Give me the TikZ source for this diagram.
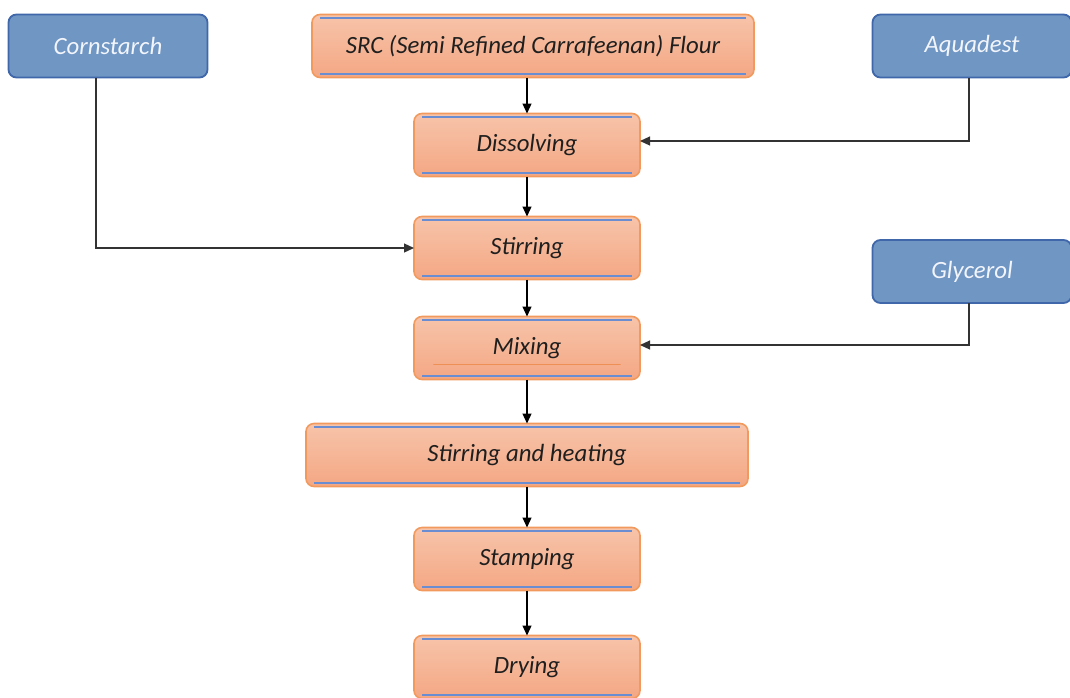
\documentclass[tikz,border=0pt]{standalone}
\usepackage{fontspec}
\setmainfont{Carlito}
\usetikzlibrary{positioning,arrows.meta}
\definecolor{procTop}{HTML}{F7C4AA}
\definecolor{procBot}{HTML}{F4A783}
\definecolor{procEdge}{HTML}{F29A5E}
\definecolor{rim}{HTML}{EE8F55}
\definecolor{stripe}{HTML}{6A8CD0}
\definecolor{inFill}{HTML}{7096C4}
\definecolor{inEdge}{HTML}{3F67AA}
\definecolor{inText}{HTML}{F2F5FB}

\begin{document}
\begin{tikzpicture}[
  x=1pt, y=1pt,
  node distance=20pt,
  proc/.style={rectangle, rounded corners=4pt, draw=procEdge, line width=0.8pt,
               outer sep=0pt, top color=procTop, bottom color=procBot,
               minimum width=113pt, minimum height=31.5pt, align=center,
               font=\fontsize{12.4}{15}\selectfont\itshape, text=black!88,
               path picture={
                 \draw[stripe, line width=0.9pt]
                   ([xshift=4pt,yshift=-1.8pt]path picture bounding box.north west) --
                   ([xshift=-4pt,yshift=-1.8pt]path picture bounding box.north east);
                 \draw[stripe, line width=0.9pt]
                   ([xshift=4pt,yshift=1.8pt]path picture bounding box.south west) --
                   ([xshift=-4pt,yshift=1.8pt]path picture bounding box.south east);
               }},
  wide/.style={proc, minimum width=221pt},
  inp/.style={rectangle, rounded corners=4pt, draw=inEdge, line width=0.9pt,
              outer sep=0pt, fill=inFill, minimum width=99.5pt, minimum height=31.5pt,
              font=\fontsize{12.4}{15}\selectfont\itshape, text=inText},
  arr/.style={-{Triangle[length=5pt, width=4.5pt]}, line width=0.6pt, black},
  feed/.style={line width=0.6pt, black!80},
]
 \useasboundingbox (0,0) rectangle (535,-348.5);

 % Inputs
 \node[inp] (Corn) at (54,-23) {Cornstarch};
 \node[wide] (SRC) at (266.5,-23) {SRC (Semi Refined Carrafeenan) Flour};
 \node[inp] (Aqua) at (486,-23) {Aquadest};

 % Process column
 \node[proc, below=18pt of SRC, xshift=-3pt] (Dis) {Dissolving};
 \node[proc, below=20pt of Dis] (Stir) {Stirring};
 \node[proc, below=18.5pt of Stir] (Mix) {Mixing};
 \node[wide, below=22pt of Mix] (Heat) {Stirring and heating};
 \node[proc, below=20.5pt of Heat] (Stamp) {Stamping};
 \node[proc, below=22.5pt of Stamp] (Dry) {Drying};

 \node[inp] (Gly) at (486,-135.75) {Glycerol};

 % faint rim inside Mixing
 \draw[rim, line width=0.8pt, line cap=round]
   ([xshift=10pt,yshift=7.5pt]Mix.south west) -- ([xshift=-10pt,yshift=7.5pt]Mix.south east);

 \draw[arr] (SRC.south -| Dis) -- (Dis);
 \draw[arr] (Dis) -- (Stir);
 \draw[arr] (Stir) -- (Mix);
 \draw[arr] (Mix) -- (Heat.north -| Mix);
 \draw[arr] (Heat.south -| Stamp) -- (Stamp);
 \draw[arr] (Stamp) -- (Dry);

 % Side feeds
 \draw[arr, feed] ([xshift=-6pt]Corn.south) |- (Stir.west);
 \draw[arr, feed] ([xshift=-1.5pt]Aqua.south) |- ([yshift=2pt]Dis.east);
 \draw[arr, feed] ([xshift=-1.5pt]Gly.south) |- ([yshift=1.5pt]Mix.east);
\end{tikzpicture}
\end{document}
